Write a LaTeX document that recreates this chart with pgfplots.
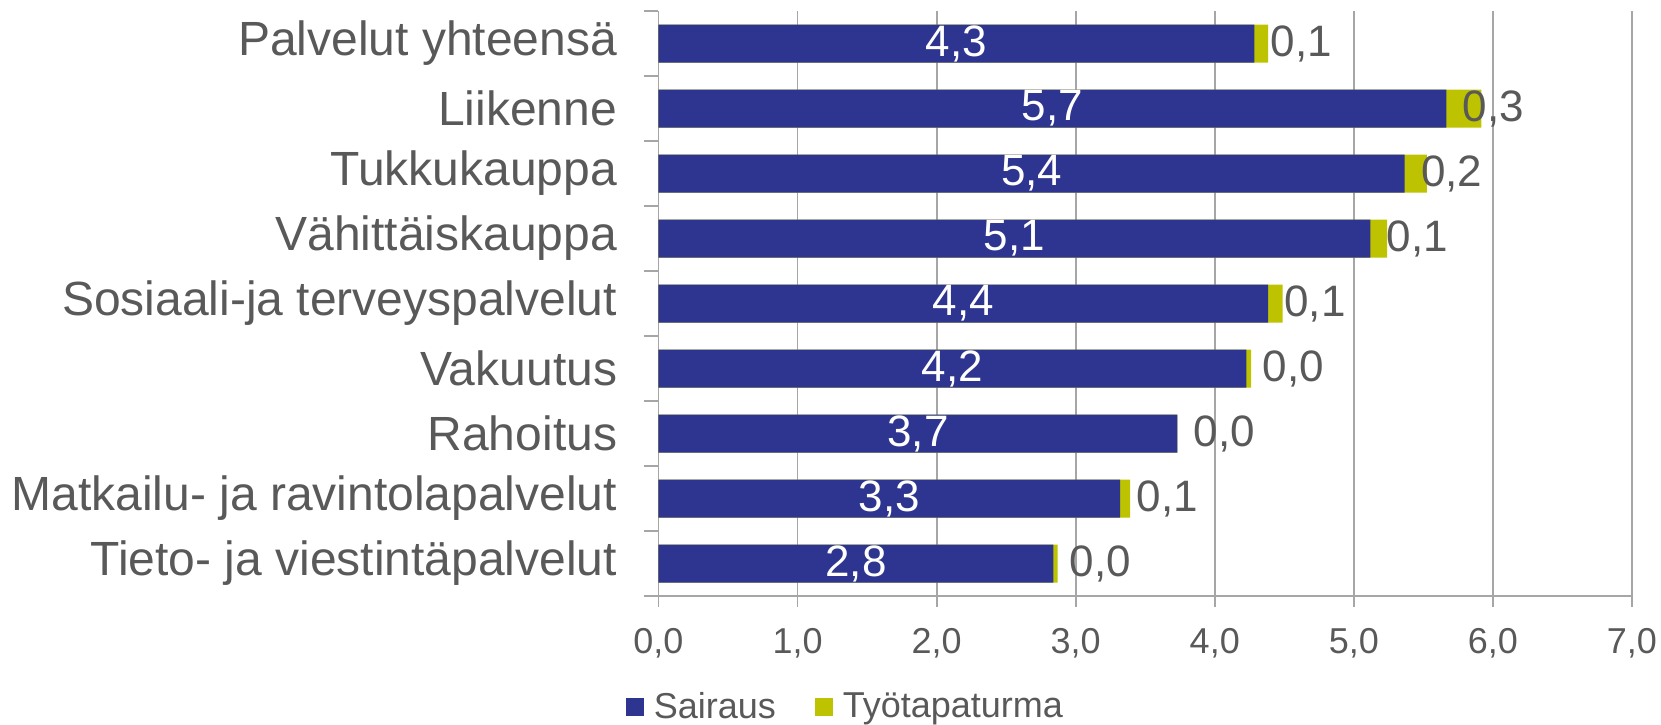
\documentclass[border=0pt]{standalone}
\usepackage{fontspec}
\setmainfont{Liberation Sans}
\usepackage{pgfplots}
\pgfplotsset{compat=1.18}
\usepackage{pgfplotstable}
\definecolor{tblue}{HTML}{2E3590}
\definecolor{tgreen}{HTML}{BDC300}
\definecolor{txt}{HTML}{595959}
\definecolor{grd}{HTML}{A6A6A6}

% pos: 0 = top row; s = Sairaus, w = Tyotapaturma
\pgfplotstableread{
pos s     w
0   4.284 0.100
1   5.665 0.252
2   5.366 0.160
3   5.119 0.120
4   4.383 0.105
5   4.227 0.034
6   3.732 0.000
7   3.320 0.072
8   2.840 0.030
}\data

\begin{document}
\begin{tikzpicture}
\useasboundingbox (-329.25pt,-64pt) rectangle (501.25pt,298pt);
\begin{axis}[
  at={(0,0)}, anchor=south west,
  scale only axis,
  width=486.75pt, height=292.5pt,
  xmin=0, xmax=7,
  ymin=-0.5, ymax=8.5,
  y dir=reverse,
  axis x line*=bottom,
  axis y line*=left,
  axis line style={draw=grd, line width=0.9pt, -},
  xtick={0,1,...,7},
  ytick={0,1,...,8},
  minor ytick={-0.5,0.5,...,8.5},
  yticklabels={Palvelut yhteensä,Liikenne,Tukkukauppa,Vähittäiskauppa,Sosiaali-ja terveyspalvelut,Vakuutus,Rahoitus,Matkailu- ja ravintolapalvelut,Tieto- ja viestintäpalvelut},
  tick align=outside,
  major tick length=5.5pt,
  minor tick length=7pt,
  major y tick style={draw=none},
  minor y tick style={draw=grd, line width=0.9pt},
  major x tick style={draw=grd, line width=0.9pt},
  xmajorgrids,
  major grid style={draw=grd, line width=0.9pt},
  /pgf/number format/.cd, fixed, fixed zerofill, precision=1, use comma, assume math mode=true,
  /pgfplots/.cd,
  x tick label style={font=\fontsize{18}{21}\selectfont, text=txt, yshift=-7pt},
  y tick label style={font=\fontsize{24}{28}\selectfont, text=txt, inner xsep=0pt, xshift=-15pt},
  legend style={at={(rel axis cs:0.193,0)}, anchor=center, yshift=-55.5pt, draw=none, fill=none,
    font=\fontsize{18}{21}\selectfont, text=txt, legend columns=2,
    /tikz/every odd column/.append style={column sep=3pt},
    /tikz/every even column/.append style={column sep=17.5pt}},
  legend image code/.code={\fill[#1] (0pt,-4.5pt) rectangle (9pt,4.5pt);},
  clip=false,
]
\addlegendimage{fill=tblue, draw=none}
\addlegendentry{Sairaus}
\addlegendimage{fill=tgreen, draw=none}
\addlegendentry{Työtapaturma}

\addplot[xbar, bar width=19pt, bar shift=0pt, fill=tgreen, draw=none, forget plot]
  table[x expr=\thisrow{s}+\thisrow{w}, y=pos] {\data};
\addplot[xbar, bar width=19pt, bar shift=0pt, fill=tblue, draw=none, forget plot]
  table[x=s, y=pos] {\data};

\addplot[draw=none, mark=none, forget plot, nodes near coords, point meta=explicit,
  nodes near coords style={anchor=center, text=white, font=\fontsize{22}{26}\selectfont}]
  table[x expr=\thisrow{s}/2, y=pos, meta=s] {\data};
\addplot[draw=none, mark=none, forget plot, nodes near coords, point meta=explicit,
  nodes near coords style={anchor=center, xshift=23.5pt, text=txt, font=\fontsize{22}{26}\selectfont}]
  table[x=s, y=pos, meta=w] {\data};
\end{axis}
\end{tikzpicture}
\end{document}
